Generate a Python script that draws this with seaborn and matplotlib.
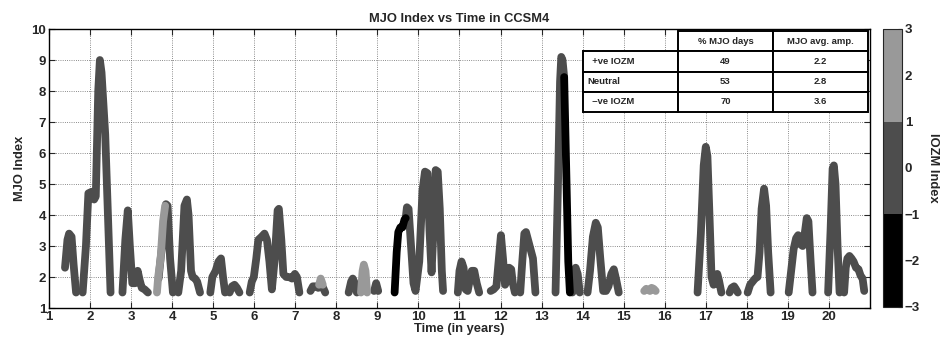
import numpy as np
import pandas as pd
import matplotlib
matplotlib.use("Agg")
import matplotlib.pyplot as plt
import seaborn as sns
from matplotlib.colors import ListedColormap, BoundaryNorm
from matplotlib.cm import ScalarMappable


# DATA

# each run of the MJO index above threshold: times (years), MJO index, IOZM phase
seg_t = [
    [1.39, 1.45, 1.49, 1.55, 1.60, 1.66],
    [1.82, 1.90, 1.96, 2.04, 2.10, 2.14, 2.20, 2.24, 2.28, 2.37, 2.50],
    [2.79, 2.86, 2.92, 2.97, 3.03, 3.10, 3.16, 3.21, 3.26, 3.33, 3.41],
    [3.67, 3.72, 3.76, 3.80, 3.85, 3.89, 3.95, 4.02],
    [3.63, 3.66, 3.72, 3.78, 3.83],
    [4.15, 4.22, 4.30, 4.36, 4.40, 4.46, 4.50, 4.56, 4.61, 4.68],
    [4.93, 4.98, 5.06, 5.13, 5.19, 5.24, 5.29],
    [5.40, 5.46, 5.52, 5.58, 5.64],
    [5.89, 5.94, 5.99, 6.05, 6.10, 6.18, 6.25, 6.31, 6.37, 6.43, 6.50,
     6.57, 6.60, 6.66, 6.71, 6.78, 6.85, 6.92, 6.99, 7.04, 7.10],
    [7.37, 7.43, 7.50, 7.56, 7.62, 7.68, 7.73],
    [7.58, 7.62, 7.67],
    [8.30, 8.36, 8.40, 8.45, 8.50],
    [8.60, 8.64, 8.67, 8.71, 8.75],
    [8.92, 8.97, 9.02],
    [9.42, 9.47, 9.51, 9.56, 9.61, 9.66, 9.69],
    [9.69, 9.72, 9.76, 9.82, 9.88, 9.93, 10.02, 10.10, 10.16, 10.22, 10.27,
     10.32, 10.37, 10.42, 10.47, 10.52, 10.57, 10.60],
    [10.96, 11.00, 11.05, 11.10, 11.15, 11.20, 11.25, 11.30, 11.36, 11.42, 11.48],
    [11.76, 11.83, 11.90, 11.96, 12.01, 12.06, 12.11, 12.16, 12.21, 12.26, 12.30, 12.35],
    [12.48, 12.53, 12.58, 12.62, 12.67, 12.73, 12.79, 12.85],
    [13.34, 13.40, 13.45, 13.48, 13.51, 13.55],
    [13.55, 13.60, 13.65, 13.69],
    [13.75, 13.79, 13.83, 13.88, 13.93],
    [14.12, 14.18, 14.25, 14.32, 14.37, 14.43, 14.50, 14.57, 14.63, 14.70, 14.76, 14.82, 14.88],
    [15.50, 15.55, 15.60, 15.64, 15.68, 15.73, 15.78],
    [16.80, 16.88, 16.95, 17.00, 17.04, 17.09, 17.14, 17.19, 17.24, 17.28, 17.32, 17.38],
    [17.58, 17.63, 17.69, 17.73, 17.78],
    [18.02, 18.08, 18.14, 18.20, 18.26, 18.31, 18.36, 18.42, 18.47, 18.52, 18.58],
    [19.02, 19.08, 19.14, 19.20, 19.25, 19.31, 19.36, 19.41, 19.46, 19.50, 19.55, 19.60],
    [19.98, 20.04, 20.09, 20.12, 20.16, 20.21, 20.26],
    [20.37, 20.41, 20.45, 20.50, 20.55, 20.60, 20.66, 20.72, 20.77, 20.82, 20.86],
]
seg_v = [
    [2.3, 3.2, 3.4, 3.3, 2.4, 1.5],
    [1.5, 3.0, 4.7, 4.75, 4.5, 4.6, 8.0, 9.0, 8.6, 6.6, 1.5],
    [1.5, 3.2, 4.15, 3.0, 1.8, 1.8, 2.2, 1.9, 1.65, 1.6, 1.5],
    [1.95, 2.6, 3.05, 3.3, 4.35, 4.3, 2.6, 1.5],
    [1.5, 2.0, 2.6, 3.8, 4.3],
    [1.5, 2.2, 4.3, 4.5, 4.0, 2.2, 2.0, 1.95, 1.85, 1.5],
    [1.5, 2.0, 2.2, 2.5, 2.6, 2.0, 1.5],
    [1.5, 1.7, 1.75, 1.65, 1.5],
    [1.5, 1.85, 2.0, 2.6, 3.2, 3.3, 3.4, 3.2, 2.5, 1.6, 2.6,
     4.15, 4.2, 3.2, 2.1, 2.0, 2.0, 1.95, 2.1, 2.0, 1.5],
    [1.55, 1.7, 1.7, 1.65, 1.7, 1.65, 1.5],
    [1.75, 1.95, 1.75],
    [1.5, 1.85, 1.95, 1.8, 1.5],
    [1.5, 2.2, 2.4, 2.2, 1.5],
    [1.55, 1.8, 1.55],
    [1.5, 2.8, 3.45, 3.6, 3.6, 3.85, 3.9],
    [3.9, 4.25, 4.2, 3.0, 1.8, 1.55, 2.5, 4.8, 5.4, 5.35, 3.5,
     2.15, 3.6, 5.45, 5.4, 4.2, 2.2, 1.55],
    [1.5, 2.2, 2.5, 2.3, 1.6, 1.55, 1.9, 2.2, 2.2, 1.8, 1.5],
    [1.55, 1.6, 1.7, 2.6, 3.35, 2.6, 1.75, 1.9, 2.3, 2.25, 1.8, 1.5],
    [1.5, 2.5, 3.4, 3.45, 3.2, 2.9, 2.6, 1.5],
    [1.5, 5.0, 8.3, 9.1, 9.0, 8.45],
    [8.45, 5.5, 2.5, 1.5],
    [1.5, 2.2, 2.3, 2.1, 1.5],
    [1.5, 2.2, 3.3, 3.75, 3.6, 2.6, 1.55, 1.55, 1.7, 2.1, 2.25, 1.9, 1.5],
    [1.55, 1.62, 1.58, 1.55, 1.65, 1.62, 1.55],
    [1.5, 3.4, 5.6, 6.2, 5.9, 4.0, 2.0, 1.75, 1.8, 2.1, 1.9, 1.5],
    [1.5, 1.65, 1.7, 1.62, 1.5],
    [1.5, 1.75, 1.85, 1.95, 2.0, 2.8, 4.2, 4.85, 4.3, 2.8, 1.5],
    [1.5, 2.2, 2.9, 3.25, 3.35, 3.05, 3.0, 3.4, 3.9, 3.8, 2.6, 1.5],
    [1.5, 3.5, 5.5, 5.6, 5.0, 3.0, 1.5],
    [1.5, 2.3, 2.6, 2.68, 2.6, 2.5, 2.3, 2.25, 2.05, 1.95, 1.55],
]
seg_phase = [
    "neutral", "neutral", "neutral", "neutral", "positive", "neutral",
    "neutral", "neutral", "neutral", "neutral", "positive", "neutral",
    "positive", "neutral", "negative", "neutral", "neutral", "neutral",
    "neutral", "neutral", "negative", "neutral", "neutral", "positive",
    "neutral", "neutral", "neutral", "neutral", "neutral", "neutral",
]

phase_colors = {"neutral": "#4d4d4d", "positive": "#999999", "negative": "#000000"}

# summary table
table_cols = ["", "% MJO days", "MJO avg. amp."]
table_rows = ["  +ve IOZM", "Neutral", "  \u2013ve IOZM"]
pct_days = ["49", "53", "70"]
avg_amp = ["2.2", "2.8", "3.6"]

cbar_ticks = [-3, -2, -1, 0, 1, 2, 3]


# BUILD DATAFRAME

rows = []
for i, (t, v, p) in enumerate(zip(seg_t, seg_v, seg_phase)):
    for tt, vv in zip(t, v):
        rows.append({"time": tt, "mjo": vv, "seg": i, "phase": p})
df = pd.DataFrame(rows)


# PLOT

sns.set_style("ticks")
plt.rcParams["font.family"] = ["Liberation Sans", "DejaVu Sans"]
plt.rcParams["font.weight"] = "bold"

fig = plt.figure(figsize=(9.51, 3.43), dpi=100)
ax = fig.add_axes([0.0515, 0.102, 0.8633, 0.8134])

sns.lineplot(data=df, x="time", y="mjo", hue="phase", units="seg",
             estimator=None, sort=False, palette=phase_colors,
             hue_order=["neutral", "positive", "negative"], legend=False,
             linewidth=5.6, solid_capstyle="round", solid_joinstyle="round", ax=ax)

ax.set_xlim(1, 21)
ax.set_ylim(1, 10)
ax.set_xticks(range(1, 21))
ax.set_yticks(range(1, 11))
ax.grid(True, linestyle=":", color="#666666", linewidth=0.6)
ax.tick_params(direction="in", top=True, right=True, length=4, width=0.8,
               labelsize=9.5, pad=2)
for lbl in ax.get_xticklabels() + ax.get_yticklabels():
    lbl.set_fontweight("bold")
for s in ax.spines.values():
    s.set_linewidth(1.0)
    s.set_color("black")

ax.set_title("MJO Index vs Time in CCSM4", fontsize=9.3, fontweight="bold", pad=5)
ax.set_xlabel("Time (in years)", fontsize=9.3, fontweight="bold", labelpad=0)
ax.set_ylabel("MJO Index", fontsize=9.3, fontweight="bold", labelpad=4)

# table in the upper right
cell_text = [table_cols] + [[r, a, b] for r, a, b in zip(table_rows, pct_days, avg_amp)]
tab = ax.table(cellText=cell_text, cellLoc="center",
               bbox=[0.650, 0.7025, 0.348, 0.29], zorder=5)
tab.auto_set_font_size(False)
for (r, c), cell in tab.get_celld().items():
    cell.set_linewidth(1.4)
    cell.set_edgecolor("black")
    cell.set_facecolor("white")
    cell.get_text().set_fontsize(6.8)
    cell.get_text().set_fontweight("bold")
    if r == 0 and c == 0:
        cell.visible_edges = ""
    if c == 0 and r > 0:
        cell._loc = "left"
        cell.PAD = 0.05
        cell.get_text().set_horizontalalignment("left")

# colorbar
cmap = ListedColormap(["#000000", "#4d4d4d", "#999999"])
norm = BoundaryNorm([-3, -1, 1, 3], 3)
cax = fig.add_axes([0.9285, 0.105, 0.02, 0.8105])
cbar = fig.colorbar(ScalarMappable(norm=norm, cmap=cmap), cax=cax, ticks=cbar_ticks)
cbar.outline.set_linewidth(0.8)
cax.tick_params(direction="in", length=3, labelsize=9.5, pad=2)
for lbl in cax.get_yticklabels():
    lbl.set_fontweight("bold")
cbar.set_label("IOZM Index", rotation=270, fontsize=9.3, fontweight="bold", labelpad=14)

fig.savefig("out.png", dpi=100)
plt.close()
